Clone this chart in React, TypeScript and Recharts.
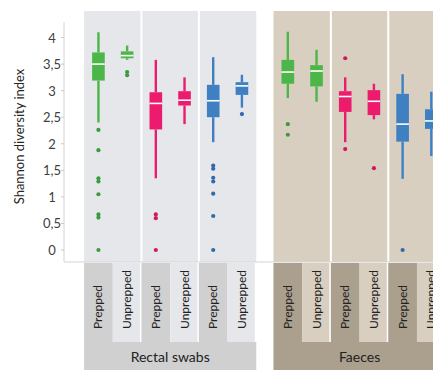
import React from 'react';
import { ComposedChart, XAxis, YAxis, ReferenceArea, ReferenceLine, Scatter, Label } from 'recharts';

// ---------- data ----------
const groups = ['Rectal swabs', 'Faeces'];
const categories = ['Prepped', 'Unprepped', 'Prepped', 'Unprepped', 'Prepped', 'Unprepped',
  'Prepped', 'Unprepped', 'Prepped', 'Unprepped', 'Prepped', 'Unprepped'];
const positions = [0, 1, 2, 3, 4, 5, 6.6, 7.6, 8.6, 9.6, 10.6, 11.6];
const groupOf = [0, 0, 0, 0, 0, 0, 1, 1, 1, 1, 1, 1];
const taxonOf = [0, 0, 1, 1, 2, 2, 0, 0, 1, 1, 2, 2];
const whiskerLow = [2.40, 3.58, 1.35, 2.37, 2.03, 2.68, 2.86, 2.79, 2.03, 2.46, 1.34, 1.77];
const q1 = [3.19, 3.61, 2.27, 2.72, 2.50, 2.92, 3.13, 3.08, 2.60, 2.54, 2.04, 2.28];
const median = [3.50, 3.66, 2.76, 2.82, 2.81, 3.09, 3.35, 3.37, 2.89, 2.80, 2.37, 2.43];
const q3 = [3.72, 3.74, 2.97, 2.99, 3.11, 3.16, 3.58, 3.48, 2.99, 3.01, 2.94, 2.65];
const whiskerHigh = [4.10, 3.85, 3.58, 3.25, 3.63, 3.30, 4.11, 3.77, 3.25, 3.13, 3.31, 2.98];
const outliers = [
  [2.26, 1.88, 1.35, 1.29, 1.05, 0.67, 0.61, 0],
  [3.35, 3.29],
  [0.67, 0.60, 0],
  [],
  [1.59, 1.53, 1.36, 1.29, 1.06, 0.64, 0],
  [2.56],
  [2.37, 2.17],
  [],
  [3.61, 1.90],
  [1.54],
  [0],
  [],
];
const yTicks = [0, 0.5, 1, 1.5, 2, 2.5, 3, 3.5, 4];

// ---------- layout & style ----------
const CHART_W = 460;
const CHART_H = 370;
const Y_AXIS_W = 64;
const X_AXIS_H = 108;
const TOP = 11;
const X_MIN = -1.2;
const X_MAX = 12.6;
const Y_MIN = -0.226;
const Y_MAX = 4.5;
const AXIS_TOP = 4.29;
const BOX_HALF = 0.22;
const HALF_BAND = 0.5;
const UNIT_PX = (CHART_W - Y_AXIS_W) / (X_MAX - X_MIN);
const CAT_H = 79;
const GROUP_H = 29;
const FONT = 'Lato, "Noto Sans", sans-serif';

const BOX_COLORS = ['#4cb648', '#ec1b6e', '#3f80c2'];
const DOT_COLORS = ['#3c9a42', '#d4185f', '#2f6aa9'];
const PANEL_BG = ['#e5e7ea', '#d9cfc0'];
const DARK_BG = ['#d0d0d0', '#ab9f8d'];

const panels = [0, 1, 2, 3, 4, 5].map((k) => [positions[2 * k] - HALF_BAND, positions[2 * k + 1] + HALF_BAND, groupOf[2 * k]]);

const fmt = (v: number) => String(v).replace('.', ',');

const YTick = (props: any) => {
  const { x, y, payload } = props;
  return (
    <text x={x - 7} y={y} dy={5} textAnchor="middle" fontSize={13} fill="#404040" fontFamily={FONT}>
      {fmt(payload.value)}
    </text>
  );
};

const CategoryTick = (props: any) => {
  const { x, y, index } = props;
  const i = index;
  const g = groupOf[i];
  const isPrepped = categories[i] === 'Prepped';
  const first = groupOf.indexOf(g);
  const last = groupOf.lastIndexOf(g);
  const y0 = y + 1;
  const left = x - UNIT_PX / 2;
  return (
    <g>
      <rect
        x={left}
        y={y0}
        width={isPrepped ? UNIT_PX : UNIT_PX - 1.5}
        height={CAT_H}
        fill={isPrepped ? DARK_BG[g] : PANEL_BG[g]}
      />
      <text
        transform={`translate(${x},${y0 + 66}) rotate(-90)`}
        dy={4}
        textAnchor="start"
        fontSize={12}
        fill="#222"
        fontFamily={FONT}
      >
        {categories[i]}
      </text>
      {i === first && (
        <g>
          <rect
            x={left}
            y={y0 + CAT_H}
            width={(positions[last] - positions[first] + 1) * UNIT_PX}
            height={GROUP_H}
            fill={DARK_BG[g]}
          />
          <text
            x={left + ((positions[last] - positions[first] + 1) * UNIT_PX) / 2}
            y={y0 + CAT_H + GROUP_H / 2}
            dy={5}
            textAnchor="middle"
            fontSize={14}
            fill="#222"
            fontFamily={FONT}
          >
            {groups[g]}
          </text>
        </g>
      )}
    </g>
  );
};

const YTitle = (props: any) => {
  const vb = props.viewBox || {};
  const cx = (vb.x || 0) + 20;
  const cy = (vb.y || 0) + (vb.height || 0) / 2;
  return (
    <text
      transform={`translate(${cx},${cy}) rotate(-90)`}
      textAnchor="middle"
      dy={4}
      fontSize={13}
      fill="#262626"
      fontFamily={FONT}
    >
      Shannon diversity index
    </text>
  );
};

const Dot = (props: any) => {
  const { cx, cy, payload } = props;
  return <circle cx={cx} cy={cy} r={2.1} fill={payload.fill} />;
};

export default function App() {
  const outlierPoints = outliers.flatMap((vals, i) =>
    vals.map((v) => ({ x: positions[i], y: v, fill: DOT_COLORS[taxonOf[i]] }))
  );
  const dividers: number[] = [];
  for (let k = 1; k < panels.length; k++) {
    if (panels[k][2] === panels[k - 1][2]) dividers.push(panels[k][0]);
  }
  return (
    <div style={{ position: 'absolute', left: 0, top: 0, width: 433, height: 370, overflow: 'hidden', background: '#fff' }}>
      <ComposedChart width={CHART_W} height={CHART_H} margin={{ top: TOP, right: 0, bottom: 0, left: 0 }}>
        <XAxis
          dataKey="x"
          type="number"
          domain={[X_MIN, X_MAX]}
          allowDataOverflow
          ticks={positions}
          interval={0}
          tickLine={false}
          tickSize={0}
          tickMargin={0}
          height={X_AXIS_H}
          axisLine={{ stroke: '#d4d4d4' }}
          tick={(p: any) => <CategoryTick {...p} />}
        />
        <YAxis
          dataKey="y"
          type="number"
          domain={[Y_MIN, Y_MAX]}
          allowDataOverflow
          ticks={yTicks}
          interval={0}
          width={Y_AXIS_W}
          axisLine={false}
          tickLine={{ stroke: '#c8c8c8' }}
          tickSize={3}
          tickMargin={2}
          tick={(p: any) => <YTick {...p} />}
        >
          <Label content={YTitle} />
        </YAxis>

        {panels.map((pn, k) => (
          <ReferenceArea
            key={`panel-${k}`}
            x1={pn[0]}
            x2={pn[1]}
            y1={Y_MIN}
            y2={Y_MAX}
            fill={PANEL_BG[pn[2]]}
            fillOpacity={1}
            stroke="none"
            ifOverflow="hidden"
          />
        ))}
        {dividers.map((d, k) => (
          <ReferenceLine key={`div-${k}`} x={d} stroke="#ffffff" strokeWidth={2} ifOverflow="hidden" />
        ))}
        <ReferenceLine
          segment={[{ x: X_MIN, y: Y_MIN }, { x: X_MIN, y: AXIS_TOP }]}
          stroke="#d4d4d4"
          strokeWidth={1}
          ifOverflow="visible"
        />

        {positions.map((p, i) => (
          <ReferenceArea
            key={`box-${i}`}
            x1={p - BOX_HALF}
            x2={p + BOX_HALF}
            y1={q1[i]}
            y2={q3[i]}
            fill={BOX_COLORS[taxonOf[i]]}
            fillOpacity={1}
            stroke="none"
            ifOverflow="hidden"
          />
        ))}
        {positions.map((p, i) => (
          <ReferenceLine
            key={`wl-${i}`}
            segment={[{ x: p, y: whiskerLow[i] }, { x: p, y: q1[i] }]}
            stroke={BOX_COLORS[taxonOf[i]]}
            strokeWidth={2.4}
            ifOverflow="hidden"
          />
        ))}
        {positions.map((p, i) => (
          <ReferenceLine
            key={`wh-${i}`}
            segment={[{ x: p, y: q3[i] }, { x: p, y: whiskerHigh[i] }]}
            stroke={BOX_COLORS[taxonOf[i]]}
            strokeWidth={2.4}
            ifOverflow="hidden"
          />
        ))}
        {positions.map((p, i) => (
          <ReferenceLine
            key={`med-${i}`}
            segment={[{ x: p - BOX_HALF, y: median[i] }, { x: p + BOX_HALF, y: median[i] }]}
            stroke="#ffffff"
            strokeWidth={1.6}
            ifOverflow="hidden"
          />
        ))}
        <Scatter data={outlierPoints} dataKey="y" isAnimationActive={false} shape={(p: any) => <Dot {...p} />} />
      </ComposedChart>
    </div>
  );
}
